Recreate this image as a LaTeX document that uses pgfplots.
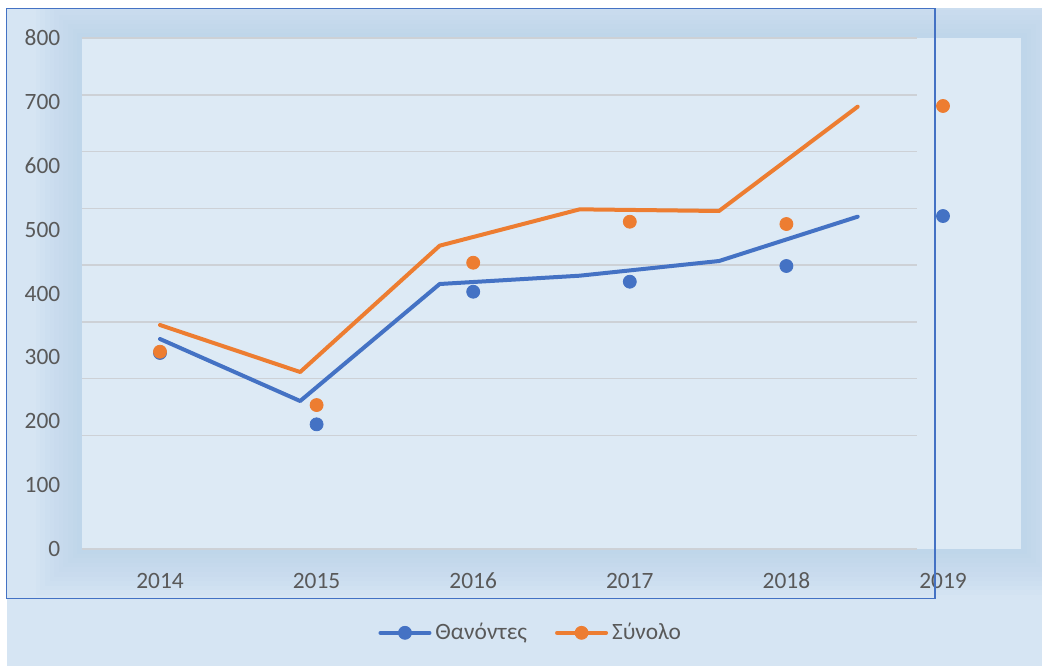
\documentclass[border=0pt]{standalone}
\usepackage{pgfplots}
\pgfplotsset{compat=1.18}
\usepackage{fontspec}
\setmainfont{Carlito}
\definecolor{cblue}{HTML}{4472C4}
\definecolor{corange}{HTML}{ED7D31}
\definecolor{bgouter}{HTML}{D6E5F3}
\definecolor{glow}{HTML}{B4CFEA}
\definecolor{plotbg}{HTML}{DDEAF5}
\definecolor{gridc}{HTML}{CDD1D6}
\definecolor{textgray}{HTML}{595959}
\definecolor{selblue}{HTML}{4472C4}
\newcommand{\lblfont}{\fontsize{11.7}{13.5}\selectfont}
\begin{document}
\begin{tikzpicture}
\useasboundingbox (0,0) rectangle (521pt,-333pt);
\fill[white] (0,0) rectangle (521pt,-333pt);
\fill[bgouter] (3.5pt,-4pt) rectangle (521pt,-333pt);
\begin{scope}
\clip (3.5pt,-4pt) rectangle (521pt,-333pt);
\foreach \i in {1,...,10} {
  \fill[glow, opacity=0.08] ({40.85pt-\i*2.3pt},{-19pt+\i*2.3pt}) rectangle ({511pt+\i*2.3pt},{-274.5pt-\i*2.3pt});
}
\end{scope}
\begin{axis}[
  at={(40.85pt,-274.5pt)}, anchor=south west,
  scale only axis, width=469.8pt, height=255.5pt,
  xmin=2013.5, xmax=2019.5, ymin=0, ymax=800,
  axis line style={draw=none},
  axis background/.style={fill=plotbg},
  xtick={2014,2015,2016,2017,2018,2019},
  ytick={0,100,200,300,400,500,600,700,800},
  major tick length=0pt,
  /pgf/number format/assume math mode=true,
  x tick label style={/pgf/number format/1000 sep={}, anchor=center, inner sep=0pt, yshift=-16pt, font=\lblfont, text=textgray},
  y tick label style={anchor=east, inner sep=0pt, xshift=-10.5pt, font=\lblfont, text=textgray},
  clip=false,
  legend style={at={(0.479,-0.164)}, anchor=center, draw=none, fill=none, legend columns=2, font=\lblfont, text=textgray,
    /tikz/every even column/.append style={column sep=12pt}},
  legend image code/.code={\draw[#1, line width=2pt, line cap=round] (0pt,0pt) -- (24.5pt,0pt); \fill[#1] (12.25pt,0pt) circle (3.25pt);},
]
\pgfplotsinvokeforeach{2,...,9}{
  \draw[gridc, line width=0.7pt] (axis cs:2013.5,{800*#1/9}) -- (axis cs:2018.834,{800*#1/9});
}
\draw[gridc, line width=0.9pt] (axis cs:2013.5,0) -- (axis cs:2018.834,0);
\addlegendimage{color=cblue}
\addlegendentry{Θανόντες}
\addlegendimage{color=corange}
\addlegendentry{Σύνολο}
% lines
\addplot[cblue, line width=2pt, line join=round, line cap=round, forget plot] coordinates {
(2014,328.8) (2014.895,231.7) (2015.786,414.9) (2016.68,427.9) (2017.57,450.9) (2018.455,520.3)};
\addplot[corange, line width=2pt, line join=round, line cap=round, forget plot] coordinates {
(2014,350.7) (2014.895,277.1) (2015.786,474.9) (2016.68,531.8) (2017.57,529.2) (2018.455,692.5)};
% markers
\addplot[only marks, mark=*, mark size=3.25pt, mark options={fill=cblue, draw=cblue}, forget plot] coordinates {
(2014,306.9) (2015,195.2) (2016,402.8) (2017,418.5) (2018,443.1) (2019,521.3)};
\addplot[only marks, mark=*, mark size=3.25pt, mark options={fill=corange, draw=corange}, forget plot] coordinates {
(2014,308.9) (2015,225.4) (2016,448.2) (2017,512.4) (2018,508.8) (2019,693.6)};
\end{axis}
\draw[selblue, line width=0.7pt] (3.35pt,-4.15pt) rectangle (467.5pt,-299.15pt);
\end{tikzpicture}
\end{document}
